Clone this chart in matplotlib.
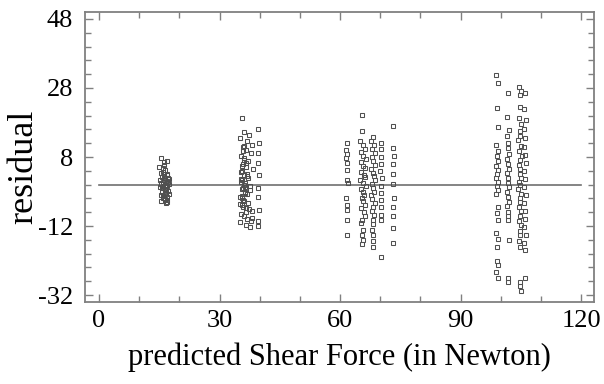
import numpy as np
import matplotlib.pyplot as plt
from matplotlib.ticker import MultipleLocator

plt.rcParams['font.family'] = 'Liberation Serif'
plt.rcParams['axes.unicode_minus'] = False

# ---- data (predicted force, residual) ----
# cluster near 16 N
a_x = [15.3, 16.1, 15.0, 15.8, 16.5, 17.0, 15.4, 16.2, 16.8, 15.6, 16.4, 17.2, 15.1,
       15.9, 16.6, 17.4, 15.5, 16.3, 16.9, 15.2, 16.0, 16.7, 17.1, 15.7, 16.4, 17.3,
       15.4, 16.2, 16.9, 15.8, 16.5, 17.0, 15.3, 16.1, 16.8, 15.6, 16.3, 17.2, 15.9,
       16.6, 17.5, 16.0, 16.7, 17.1, 15.5, 16.4, 16.9, 16.2, 17.0, 16.6]
a_y = [7.8, 6.5, 5.2, 4.8, 4.2, 6.9, 3.5, 3.1, 2.8, 2.2, 1.9, 1.5, 1.2, 0.9, 0.6, 0.3,
       0.1, -0.2, -0.5, -0.8, -1.1, -1.4, -1.7, -2.0, -2.3, -2.6, -2.9, -3.2, -3.5,
       -3.8, -4.1, -4.4, -4.7, 2.5, 1.0, -0.9, -1.6, 0.7, 3.8, -2.4, 1.7, -3.0, -0.3,
       2.0, 0.4, -1.2, -4.9, 5.6, 3.2, -5.3]

# cluster near 37 N
b_x = [35.6, 36.0, 37.4, 35.2, 36.8, 38.0, 35.8, 36.6, 37.8, 35.4, 36.2, 37.0, 35.9,
       36.5, 38.2, 35.3, 36.1, 37.2, 35.7, 36.4, 37.6, 35.5, 36.3, 36.9, 35.1, 35.9,
       37.1, 35.6, 36.7, 38.1, 35.4, 36.0, 36.8, 35.2, 36.5, 37.5, 35.8, 36.2, 35.5,
       36.9, 35.3, 36.4, 37.7, 35.7, 36.1, 35.9, 36.6, 38.0, 35.4, 36.3, 35.6, 36.8,
       35.2, 36.0, 37.3, 35.8, 36.5, 35.5, 36.2, 37.9,
       39.6, 39.7, 39.5, 39.6, 39.7, 39.5, 39.6, 39.7, 39.5, 39.6]
b_y = [19.3, 15.2, 14.4, 13.6, 12.5, 11.6, 10.8, 10.0, 9.2, 8.4, 7.6, 6.8, 6.0, 5.2,
       4.4, 3.6, 2.8, 2.0, 1.2, 0.4, -0.4, -1.2, -2.0, -2.8, -3.6, -4.4, -5.2, -6.0,
       -6.8, -7.6, -8.4, -9.2, -10.0, -10.8, -11.6, -12.3, 9.6, 7.1, 5.5, 3.1, 1.6,
       -0.8, -1.6, -3.2, -4.8, -6.4, -8.0, -9.6, 0.8, -2.4, 4.0, 2.4, -5.6, 11.2,
       -7.2, -1.0, 6.4, -3.9, 0.0, -10.4,
       16.0, 12.0, 9.2, 6.3, 2.9, -1.0, -3.6, -7.3, -10.4, -12.0]

# cluster near 67 N
c_x = [61.7, 61.5, 61.8, 61.6, 61.7, 61.9, 61.5, 61.8, 61.6, 61.7, 61.6, 61.8, 61.5,
       65.5, 65.4, 65.0, 65.6, 66.2, 65.2, 65.8, 66.4, 65.1, 65.7, 66.3, 65.3, 65.9,
       66.1, 65.0, 65.6, 66.4, 65.2, 65.8, 66.0, 65.4, 65.7, 66.3, 65.1, 65.9, 66.2,
       65.5, 65.3, 65.6, 65.4, 65.7, 65.5,
       68.2, 67.8, 68.5, 68.0, 68.7, 67.9, 68.3, 68.6, 67.7, 68.1, 68.4, 68.8, 67.9,
       68.2, 68.5, 67.8, 68.0, 68.6, 68.3, 67.9, 68.4, 68.1, 68.2, 68.0, 68.3, 68.1, 68.2,
       70.2, 70.1, 70.3, 70.2, 70.0, 70.4, 70.2, 70.1, 70.3, 70.2, 70.1, 70.3, 70.1,
       73.2, 73.1, 73.3, 73.2, 73.2, 73.1, 73.3, 73.2, 73.2, 73.1, 73.2]
c_y = [12.0, 10.0, 6.2, 4.2, 1.3, 0.5, -4.0, -5.9, -7.4, -10.3, -14.6, 9.0, 7.8,
       20.2, 15.4, 12.5, 11.6, 10.4, 9.5, 8.3, 7.4, 6.6, 5.5, 4.7, 3.8, 2.9, 2.1, 1.2,
       0.4, -0.5, -1.3, -2.2, -3.0, -4.0, -4.8, -5.9, -6.9, -7.9, -9.0, -10.1, -11.2,
       -13.0, -14.5, -16.0, -17.2,
       13.7, 12.6, 11.5, 10.3, 9.2, 8.0, 6.9, 5.8, 4.6, 3.5, 2.4, 1.3, 0.2, -0.9, -2.0,
       -3.1, -4.3, -5.4, -6.6, -7.7, -8.9, -10.1, -11.5, -13.0, -14.6, -16.3, -18.2,
       12.0, 10.2, 8.1, 6.0, 3.9, 1.8, -0.3, -2.4, -4.5, -6.6, -8.7, -10.3, -21.0,
       17.0, 10.7, 8.4, 6.0, 3.0, 0.2, -4.0, -6.5, -9.0, -12.5, -17.0]

# cluster near 103 N
d_x = [98.9, 99.3, 99.0, 99.4, 98.8, 99.2, 99.0, 99.4, 98.9, 99.3, 99.1, 98.8, 99.4,
       99.0, 99.2, 98.9, 99.3, 99.0, 99.2, 98.8, 99.3, 99.1, 99.0, 99.4, 98.9, 99.2,
       101.8, 101.6, 102.0, 101.5, 101.9, 101.7, 102.1, 101.6, 101.8, 102.0, 101.5,
       101.9, 101.7, 102.1, 101.6, 101.8, 102.0, 101.5, 101.9, 101.7, 101.8, 102.0,
       101.7, 101.9,
       104.6, 105.0, 104.7, 104.8, 104.5, 105.1, 104.7, 104.9, 104.4, 105.0, 104.6,
       105.2, 104.8, 104.5, 104.9, 104.7, 105.1, 104.6, 104.8, 104.4, 105.0, 104.7,
       104.9, 104.5, 105.1, 104.8, 104.6, 105.0, 104.7, 104.9, 104.5, 104.8, 104.9,
       104.7, 105.0,
       106.0, 105.8, 106.2, 105.9, 106.1, 105.7, 106.0, 106.3, 105.8, 106.1, 105.9,
       106.2, 105.7, 106.0, 106.1, 105.8, 106.2, 105.9, 106.0, 106.1]
d_y = [31.8, 29.4, 22.1, 16.8, 11.5, 9.8, 8.2, 6.9, 5.5, 4.2, 3.0, 1.8, 0.8, -0.4,
       -1.5, -2.6, -6.4, -8.2, -10.3, -14.0, -15.8, -18.0, -22.0, -23.2, -25.3, -27.0,
       26.5, 19.7, 15.8, 14.0, 12.1, 10.5, 9.0, 7.4, 5.9, 4.5, 3.3, 1.9, 0.6, -0.8,
       -2.0, -3.5, -4.9, -6.3, -7.8, -9.1, -10.3, -16.0, -27.0, -28.3,
       28.2, 27.0, 26.0, 22.6, 19.3, 17.5, 15.6, 14.1, 12.8, 11.2, 9.7, 8.4, 7.0, 5.8,
       4.4, 3.2, 2.0, 0.9, -0.2, -1.4, -2.6, -3.8, -5.1, -6.4, -7.6, -9.0, -10.4,
       -11.8, -13.3, -14.7, -16.2, -18.0, -28.2, -29.5, -30.8,
       26.5, 21.8, 18.6, 16.0, 13.4, 11.0, 8.6, 6.2, 3.9, 1.6, -0.7, -3.0, -5.3, -7.6,
       -9.9, -12.2, -14.5, -16.8, -19.0, -27.0]

pred = a_x + b_x + c_x + d_x
resid = a_y + b_y + c_y + d_y

x_ticks = [0, 30, 60, 90, 120]
y_ticks = [-32, -12, 8, 28, 48]

# ---- figure ----
fig = plt.figure(figsize=(6.04, 3.84), dpi=100)
ax = fig.add_axes([0.1407, 0.2135, 0.8427, 0.7552])

ax.plot([0, 120], [0, 0], color='#707070', linewidth=1.2, zorder=1)
ax.plot(pred, resid, 's', markersize=2.9, markerfacecolor='none',
        markeredgecolor='#505050', markeredgewidth=0.75, zorder=2)

ax.set_xlim(-3.5, 123.2)
ax.set_ylim(-34, 50)
ax.set_xticks(x_ticks)
ax.set_yticks(y_ticks)
ax.xaxis.set_minor_locator(MultipleLocator(10))
ax.yaxis.set_minor_locator(MultipleLocator(4))

ax.tick_params(which='both', direction='in', top=True, right=True,
               color='#808080', labelsize=19, pad=6)
ax.tick_params(axis='y', which='both', pad=8.5)
ax.tick_params(which='major', length=6, width=1)
ax.tick_params(which='minor', length=4, width=1)
for s in ax.spines.values():
    s.set_color('#808080')
    s.set_linewidth(1.3)

ax.set_xlabel('predicted Shear Force (in Newton)', fontsize=22, labelpad=7)
ax.set_ylabel('residual', fontsize=26)
ax.yaxis.set_label_coords(-0.088, 0.465)

fig.savefig('out.png', dpi=100)
